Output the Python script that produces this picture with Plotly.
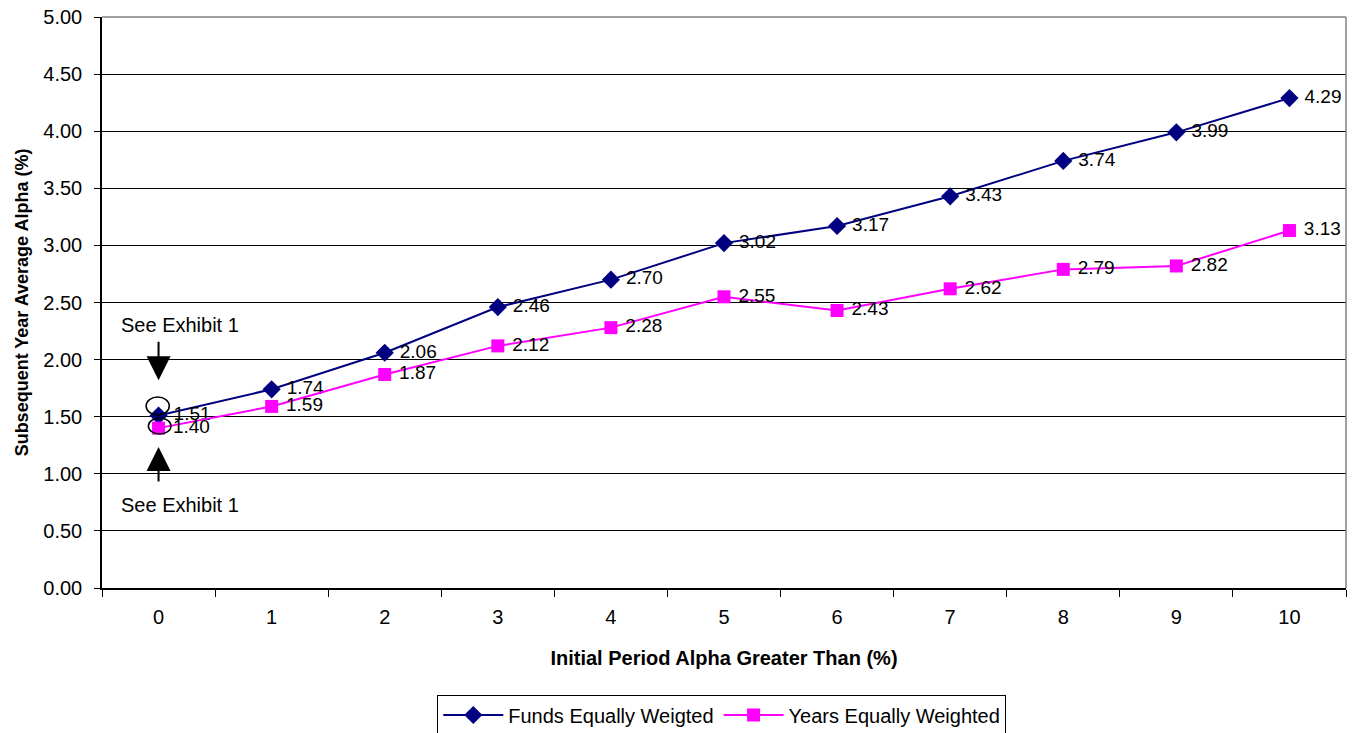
import plotly.graph_objects as go

categories = [0, 1, 2, 3, 4, 5, 6, 7, 8, 9, 10]
funds_equal = [1.51, 1.74, 2.06, 2.46, 2.70, 3.02, 3.17, 3.43, 3.74, 3.99, 4.29]
years_equal = [1.40, 1.59, 1.87, 2.12, 2.28, 2.55, 2.43, 2.62, 2.79, 2.82, 3.13]
y_ticks = [0, 0.5, 1.0, 1.5, 2.0, 2.5, 3.0, 3.5, 4.0, 4.5, 5.0]

FONT = "Liberation Sans, Arial, sans-serif"

fig = go.Figure()
fig.add_trace(go.Scatter(
    x=categories, y=funds_equal, name="Funds Equally Weigted",
    mode="lines+markers+text",
    line=dict(color="#000080", width=2),
    marker=dict(symbol="diamond", size=14, color="#000080"),
    text=[f" {v:.2f}" for v in funds_equal], textposition="middle right",
    textfont=dict(size=19, color="black", family=FONT),
))
fig.add_trace(go.Scatter(
    x=categories, y=years_equal, name="Years Equally Weighted",
    mode="lines+markers+text",
    line=dict(color="#FF00FF", width=2),
    marker=dict(symbol="square", size=13, color="#FF00FF"),
    text=[f" {v:.2f}" for v in years_equal], textposition="middle right",
    textfont=dict(size=19, color="black", family=FONT),
))

# Annotations "See Exhibit 1" with arrows
fig.add_annotation(x=0.19, y=2.30, text="See Exhibit 1", showarrow=False,
                   font=dict(size=20, color="black", family=FONT))
fig.add_annotation(x=0.19, y=0.73, text="See Exhibit 1", showarrow=False,
                   font=dict(size=20, color="black", family=FONT))
fig.add_annotation(x=0, y=1.82, ax=0, ay=-40, text="", showarrow=True,
                   arrowhead=2, arrowsize=2.4, arrowwidth=2, arrowcolor="black")
fig.add_annotation(x=0, y=1.235, ax=0, ay=36, text="", showarrow=True,
                   arrowhead=2, arrowsize=2.4, arrowwidth=2, arrowcolor="black")

# Ellipses around first points
fig.add_shape(type="circle", xref="x", yref="y", x0=-0.11, x1=0.095, y0=1.515, y1=1.672,
              line=dict(color="black", width=1.5))
fig.add_shape(type="circle", xref="x", yref="y", x0=-0.09, x1=0.11, y0=1.349, y1=1.489,
              line=dict(color="black", width=1.5))

fig.update_layout(
    width=1367, height=733,
    margin=dict(l=102, r=21, t=17, b=145, autoexpand=False),
    paper_bgcolor="white", plot_bgcolor="white",
    font=dict(family=FONT, size=20, color="black"),
    showlegend=True,
    legend=dict(orientation="h", x=0.528, xref="container", xanchor="center",
                y=(733 - 715) / 733, yref="container", yanchor="middle",
                bordercolor="black", borderwidth=1, font=dict(size=20, family=FONT),
                itemwidth=60),
    xaxis=dict(
        range=[-0.5, 10.5], tickmode="array", tickvals=categories,
        ticktext=[str(c) for c in categories], ticks="",
        showgrid=False, zeroline=False, automargin=False,
        showline=True, linecolor="black", linewidth=1.5,
        minor=dict(tickmode="array", tickvals=[i - 0.5 for i in range(12)],
                   ticks="outside", ticklen=7, tickcolor="black", showgrid=False),
        tickfont=dict(size=20),
        ticklabelstandoff=10,
        title=dict(text="<b>Initial Period Alpha Greater Than (%)</b>", font=dict(size=20), standoff=24),
    ),
    yaxis=dict(
        range=[0, 5], tickmode="array", tickvals=y_ticks,
        ticktext=[f"{v:.2f}" for v in y_ticks],
        ticks="outside", ticklen=6, tickcolor="black",
        showgrid=True, gridcolor="black", gridwidth=1,
        zeroline=False, showline=True, linecolor="black", linewidth=1.5,
        automargin=False, ticklabelstandoff=8,
        tickfont=dict(size=20),
        title=dict(text="<b>Subsequent Year Average Alpha (%)</b>", font=dict(size=18), standoff=10),
    ),
)

# gray border on top and right of plot area
fig.add_shape(type="line", xref="paper", yref="paper", x0=0, x1=1, y0=1, y1=1,
              line=dict(color="#808080", width=1.5))
fig.add_shape(type="line", xref="paper", yref="paper", x0=1, x1=1, y0=0, y1=1,
              line=dict(color="#808080", width=1.5))

fig.write_html("out.html")
